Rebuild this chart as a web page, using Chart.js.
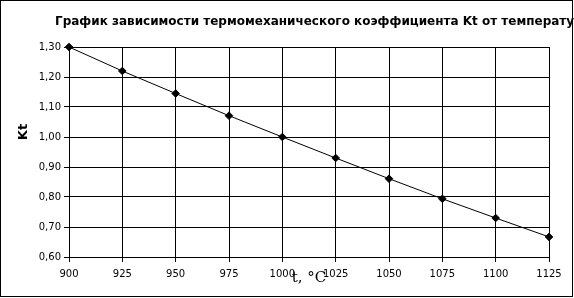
<!DOCTYPE html>
<html>
<head>
<meta charset="utf-8">
<script src="https://cdn.jsdelivr.net/npm/chart.js@4/dist/chart.umd.min.js"></script>
<style>
    html, body { margin: 0; padding: 0; background: #fff; }
    #wrap { width: 574px; height: 298px; position: relative; }
</style>
</head>
<body>
<div id="wrap"><canvas id="ktChart" width="574" height="298"></canvas></div>
<script>
// data
const temps = [900, 925, 950, 975, 1000, 1025, 1050, 1075, 1100, 1125];
const ktValues = [1.30, 1.22, 1.145, 1.071, 1.00, 0.93, 0.861, 0.794, 0.73, 0.667];
const titleText = 'График зависимости термомеханического коэффициента Kt от температуры';
const xTitle = 't, °C';
const yTitle = 'Kt';

// titles + frame drawn by hand so they sit where the original has them
const decorPlugin = {
    id: 'decor',
    afterDraw(chart) {
        const ctx = chart.ctx;
        const area = chart.chartArea;
        ctx.save();
        ctx.strokeStyle = '#000';
        ctx.lineWidth = 1;
        ctx.strokeRect(0.5, 0.5, 572, 296);

        ctx.fillStyle = '#000';
        ctx.font = 'bold 12px "DejaVu Sans"';
        ctx.textAlign = 'left';
        ctx.textBaseline = 'alphabetic';
        ctx.fillText(titleText, 55, 25);

        ctx.font = '15px "DejaVu Serif"';
        ctx.textAlign = 'center';
        ctx.fillText(xTitle, (area.left + area.right) / 2, 282);

        ctx.translate(27, 132);
        ctx.rotate(-Math.PI / 2);
        ctx.font = 'bold 13px "DejaVu Sans"';
        ctx.textAlign = 'center';
        ctx.fillText(yTitle, 0, 0);
        ctx.restore();
    }
};

const ctx = document.getElementById('ktChart').getContext('2d');
const ktChart = new Chart(ctx, {
    type: 'line',
    data: {
        datasets: [{
            data: temps.map((t, i) => ({ x: t, y: ktValues[i] })),
            borderColor: '#000',
            backgroundColor: '#000',
            borderWidth: 1,
            pointStyle: 'rectRot',
            pointRadius: 3.8,
            pointHoverRadius: 3.8,
            tension: 0,
            fill: false,
            clip: false
        }]
    },
    options: {
        responsive: false,
        animation: false,
        layout: { padding: { top: 47, right: 25, left: 0, bottom: 0 } },
        plugins: {
            legend: { display: false },
            title: { display: false },
            tooltip: { enabled: false }
        },
        scales: {
            x: {
                type: 'linear',
                min: 900,
                max: 1125,
                afterFit: function(scale) { scale.height = 41; },
                ticks: {
                    stepSize: 25,
                    color: '#000',
                    padding: 6,
                    maxRotation: 0,
                    font: { family: 'DejaVu Sans', size: 10 },
                    callback: function(v) { return String(v); }
                },
                grid: { color: '#000', lineWidth: 1, tickLength: 5 },
                border: { color: '#000', width: 1 }
            },
            y: {
                min: 0.6,
                max: 1.3,
                afterFit: function(scale) { scale.width = 69; },
                ticks: {
                    stepSize: 0.1,
                    color: '#000',
                    padding: 3,
                    font: { family: 'DejaVu Sans', size: 10 },
                    callback: function(v) { return v.toFixed(2).replace('.', ','); }
                },
                grid: { color: '#000', lineWidth: 1, tickLength: 5 },
                border: { color: '#000', width: 1 }
            }
        }
    },
    plugins: [decorPlugin]
});
</script>
</body>
</html>
